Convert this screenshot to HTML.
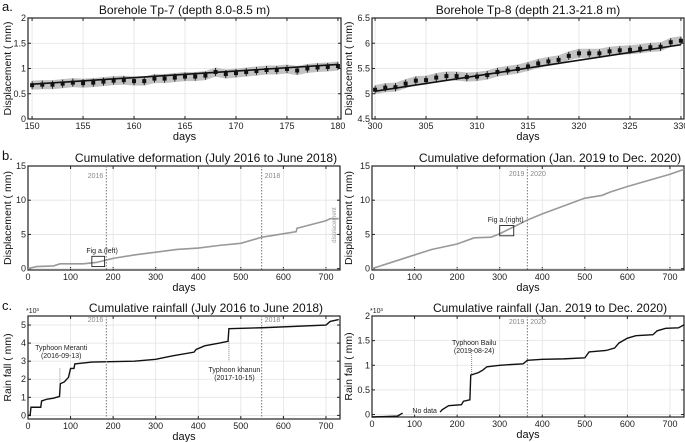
<!DOCTYPE html>
<html><head><meta charset="utf-8">
<style>
html,body{margin:0;padding:0;background:#fff;}
svg{display:block;font-family:"Liberation Sans",Arial,sans-serif;}
</style></head>
<body>
<svg id="fig" width="685" height="442" viewBox="0 0 685 442"></svg>
<script>
// ---- data ----
const tp7Days = [150,151,152,153,154,155,156,157,158,159,160,161,162,163,164,165,166,167,168,169,170,171,172,173,174,175,176,177,178,179,180];
const tp7Vals = [0.67,0.68,0.68,0.70,0.72,0.71,0.72,0.74,0.76,0.77,0.75,0.75,0.80,0.80,0.82,0.84,0.84,0.86,0.93,0.89,0.91,0.93,0.95,0.97,0.97,0.99,0.96,1.00,1.02,1.03,1.05];
const tp7Trend = [0.69,1.08];
const tp8Days = [300,301,302,303,304,305,306,307,308,309,310,311,312,313,314,315,316,317,318,319,320,321,322,323,324,325,326,327,328,329,330];
const tp8Vals = [5.08,5.12,5.13,5.20,5.26,5.27,5.32,5.35,5.35,5.33,5.34,5.37,5.43,5.46,5.49,5.54,5.60,5.64,5.67,5.75,5.80,5.80,5.80,5.84,5.86,5.87,5.89,5.92,5.93,6.02,6.05];
const tp8Trend = [5.05,5.97];
const defLeftDays = [0,20,60,75,130,160,200,250,300,350,400,450,500,550,630,632,700,710,730];
const defLeftVals = [0,0.3,0.4,0.7,0.7,0.9,1.5,2.0,2.4,2.8,3.0,3.4,3.7,4.6,5.4,5.9,7.0,7.3,7.3];
const defRightDays = [0,100,140,200,240,280,300,365,400,500,540,560,600,700,733];
const defRightVals = [0,2.0,2.8,3.6,4.5,4.6,5.1,7.1,8.0,10.3,10.7,11.2,12.0,13.8,14.5];
const rainLeftDays = [0,5,7,30,32,45,60,74,76,85,95,100,108,110,150,250,300,340,390,395,415,450,470,472,550,700,710,730];
const rainLeftVals = [0,0,0.45,0.45,0.8,0.9,0.95,1.05,1.75,1.85,2.1,2.6,2.6,2.85,2.95,3.0,3.1,3.3,3.5,3.65,3.85,4.0,4.1,4.8,4.85,5.0,5.2,5.3];
const rainRight1Days = [0,60,72];
const rainRight1Vals = [-0.05,-0.03,0.03];
const rainRight2Days = [160,165,180,210,215,230,232,250,260,270,300,355,365,400,450,500,510,550,570,580,600,620,660,670,690,720,733];
const rainRight2Vals = [0.05,0.1,0.18,0.2,0.27,0.3,0.8,0.85,0.9,0.97,1.0,1.03,1.1,1.12,1.13,1.15,1.27,1.3,1.35,1.45,1.55,1.6,1.62,1.7,1.75,1.76,1.82];
const tpXTicks = [0,5,10,15,20,25,30];
const tp7YTicks = [0,0.5,1,1.5,2];
const tp8YTicks = [4.5,5,5.5,6,6.5];
const dayTicks = [0,100,200,300,400,500,600,700];
const defYTicks = [0,5,10,15];
const rainLYTicks = [0,1,2,3,4,5];
const rainRYTicks = [0,0.5,1,1.5,2];

const NS="http://www.w3.org/2000/svg";
const svg=document.getElementById('fig');
function el(tag,attrs,parent,text){const e=document.createElementNS(NS,tag);for(const k in attrs)e.setAttribute(k,attrs[k]);if(text!==undefined)e.textContent=text;(parent||svg).appendChild(e);return e;}
function axes(o){
  const g=el('g',{});
  
  
  const sx=v=>o.x0+(v-o.xd[0])/(o.xd[1]-o.xd[0])*(o.x1-o.x0);
  const sy=v=>o.y1-(v-o.yd[0])/(o.yd[1]-o.yd[0])*(o.y1-o.y0);
  o.xt.forEach((t,i)=>{const x=sx(o.xoff+t);
    el('line',{x1:x,x2:x,y1:o.y0,y2:o.y1,stroke:'#e3e3e3','stroke-width':0.8},g);
    el('line',{x1:x,x2:x,y1:o.y1,y2:o.y1-3,stroke:'#222'},g);
    el('line',{x1:x,x2:x,y1:o.y0,y2:o.y0+3,stroke:'#222'},g);
    const tl=el('text',{x:x,y:o.y1+10,'font-size':9,'text-anchor':'middle',fill:'#222'},g,String(o.xoff+t));
    
    
  });
  o.yt.forEach(t=>{const y=sy(t);
    el('line',{x1:o.x0,x2:o.x1,y1:y,y2:y,stroke:'#e3e3e3','stroke-width':0.8},g);
    el('line',{x1:o.x0,x2:o.x0+3,y1:y,y2:y,stroke:'#222'},g);
    el('line',{x1:o.x1,x2:o.x1-3,y1:y,y2:y,stroke:'#222'},g);
    const tl=el('text',{x:o.x0-2,y:y+3,'font-size':9,'text-anchor':'end',fill:'#222'},g,String(t));
    
    
  });
  el('rect',{x:o.x0,y:o.y0,width:o.x1-o.x0,height:o.y1-o.y0,fill:'none',stroke:'#222','stroke-width':1.2},g);
  const tt=el('text',{x:(o.x0+o.x1)/2+(o.tdx||0),y:o.y0-4,'font-size':12,'text-anchor':'middle',fill:'#111'},g,o.title);
  
  
  const xl=el('text',{x:(o.x0+o.x1)/2,y:o.y1+21,'font-size':11,'text-anchor':'middle',fill:'#111'},g,'days');
  
  
  const yc=(o.y0+o.y1)/2;
  const yl=el('text',{x:o.ylx,y:yc,'font-size':10.5,'text-anchor':'middle',fill:'#111',transform:`rotate(-90 ${o.ylx} ${yc})`},g,o.ylabel);
  
  
  return {g,sx,sy};
}
function line(ax,xs,ys,attrs,name){
  const p=el('polyline',Object.assign({points:xs.map((x,i)=>ax.sx(x)+','+ax.sy(ys[i])).join(' '),fill:'none'},attrs),ax.g);
  
  
  return p;
}
function label(x,y,txt,size,fill,anchor,parent,name){
  const t=el('text',{x:x,y:y,'font-size':size,fill:fill,'text-anchor':anchor||'start'},parent,txt);
  
  
  return t;
}
function borehole(ax,days,vals,trend){
  const up=days.map((d,i)=>ax.sx(d)+','+ax.sy(vals[i]+0.09)).join(' ');
  const dn=days.slice().reverse().map((d,i)=>ax.sx(d)+','+ax.sy(vals[vals.length-1-i]-0.09)).join(' ');
  const band=el('polygon',{points:up+' '+dn,fill:'#bdbdbd',opacity:0.9},ax.g);
  
  
  line(ax,[days[0],days[days.length-1]],trend,{stroke:'#111','stroke-width':1.6},'trend-line');
  days.forEach((d,i)=>{
    const x=ax.sx(d),y=ax.sy(vals[i]);
    const eb=el('line',{x1:x,x2:x,y1:ax.sy(vals[i]+0.08),y2:ax.sy(vals[i]-0.08),stroke:'#111','stroke-width':0.9},ax.g);
    
    
    const pt=el('rect',{x:x-2,y:y-2,width:4,height:4,fill:'#111'},ax.g);
    
    
  });
}
// panel letters
label(2,11,'a.',13,'#111','start',svg,'panel-label-a');
label(2,160,'b.',13,'#111','start',svg,'panel-label-b');
label(2,310,'c.',13,'#111','start',svg,'panel-label-c');

// a left
const aL=axes({name:'tp7-chart',x0:28,x1:341,y0:18,y1:119,xd:[149.6,180.3],yd:[0,2],xoff:150,xt:tpXTicks,yt:tp7YTicks,title:'Borehole Tp-7 (depth 8.0-8.5 m)',ylabel:'Displacement ( mm)',ylx:11});
borehole(aL,tp7Days,tp7Vals,tp7Trend);
// a right
const aR=axes({name:'tp8-chart',x0:372,x1:684,y0:18,y1:119,xd:[299.7,330.3],yd:[4.5,6.5],xoff:300,xt:tpXTicks,yt:tp8YTicks,title:'Borehole Tp-8 (depth 21.3-21.8 m)',ylabel:'Displacement ( mm)',ylx:352});
borehole(aR,tp8Days,tp8Vals,tp8Trend);

// b left
const bL=axes({name:'deformation-left-chart',x0:28,x1:340,y0:166,y1:270,xd:[0,733],yd:[-0.2,15],xoff:0,xt:dayTicks,yt:defYTicks,title:'Cumulative deformation (July 2016 to June 2018)',ylabel:'Displacement ( mm)',ylx:11,tdx:22});
line(bL,defLeftDays,defLeftVals,{stroke:'#999','stroke-width':1.6},'deformation-line');
[184,549].forEach((d,i)=>{const x=bL.sx(d);el('line',{x1:x,x2:x,y1:166,y2:270,stroke:'#777','stroke-dasharray':'1.5,1.5'},bL.g);
  label(x-3-(i?-6:0),178,i?'2018':'2016',7,'#888',i?'start':'end',bL.g,'year-marker-label');});
el('rect',{x:bL.sx(150),y:bL.sy(1.8),width:bL.sx(180)-bL.sx(150),height:bL.sy(0.3)-bL.sy(1.8),fill:'none',stroke:'#222','stroke-width':0.9},bL.g);
label(bL.sx(137),bL.sy(2.3),'Fig a.(left)',7,'#222','start',bL.g,'fig-a-left-annotation');
{const t=label(336,225,'displacement',6,'#999','middle',bL.g,'vertical-series-note');t.setAttribute('transform','rotate(-90 336 225)');}

// b right
const bR=axes({name:'deformation-right-chart',x0:372,x1:684,y0:166,y1:270,xd:[0,733],yd:[-0.2,15],xoff:0,xt:dayTicks,yt:defYTicks,title:'Cumulative deformation (Jan. 2019 to Dec. 2020)',ylabel:'Displacement ( mm)',ylx:352,tdx:22});
line(bR,defRightDays,defRightVals,{stroke:'#999','stroke-width':1.6},'deformation-line');
{const x=bR.sx(365);el('line',{x1:x,x2:x,y1:166,y2:270,stroke:'#777','stroke-dasharray':'1.5,1.5'},bR.g);
 label(x,176,'2019 : 2020',7,'#888','middle',bR.g,'year-marker-label');}
el('rect',{x:bR.sx(300),y:bR.sy(6.3),width:bR.sx(333)-bR.sx(300),height:bR.sy(4.8)-bR.sy(6.3),fill:'none',stroke:'#222','stroke-width':0.9},bR.g);
label(bR.sx(272),bR.sy(6.8),'Fig a.(right)',7,'#222','start',bR.g,'fig-a-right-annotation');

// c left
const cL=axes({name:'rainfall-left-chart',x0:28,x1:340,y0:316,y1:419,xd:[0,733],yd:[-0.2,5.5],xoff:0,xt:dayTicks,yt:rainLYTicks,title:'Cumulative rainfall (July 2016 to June 2018)',ylabel:'Rain fall ( mm)',ylx:11,tdx:22});
line(cL,rainLeftDays,rainLeftVals,{stroke:'#111','stroke-width':1.4},'rainfall-line');
label(26,313,'*10³',7,'#222','start',cL.g,'y-axis-multiplier');
[184,549].forEach((d,i)=>{const x=cL.sx(d);el('line',{x1:x,x2:x,y1:316,y2:419,stroke:'#777','stroke-dasharray':'1.5,1.5'},cL.g);
  label(x-3-(i?-6:0),322,i?'2018':'2016',7,'#888',i?'start':'end',cL.g,'year-marker-label');});
el('line',{x1:cL.sx(75),x2:cL.sx(75),y1:cL.sy(2.6),y2:cL.sy(1.8),stroke:'#888','stroke-dasharray':'1,1'},cL.g);
label(cL.sx(78),350,'Typhoon Meranti',7,'#222','middle',cL.g,'typhoon-meranti-label');
label(cL.sx(78),358,'(2016-09-13)',7,'#222','middle',cL.g,'typhoon-meranti-date');
el('line',{x1:cL.sx(472),x2:cL.sx(472),y1:cL.sy(4.1),y2:cL.sy(3.0),stroke:'#888','stroke-dasharray':'1,1'},cL.g);
label(cL.sx(485),372,'Typhoon khanun',7,'#222','middle',cL.g,'typhoon-khanun-label');
label(cL.sx(485),380,'(2017-10-15)',7,'#222','middle',cL.g,'typhoon-khanun-date');

// c right
const cR=axes({name:'rainfall-right-chart',x0:372,x1:684,y0:316,y1:417,xd:[0,733],yd:[-0.05,2],xoff:0,xt:dayTicks,yt:rainRYTicks,title:'Cumulative rainfall (Jan. 2019 to Dec. 2020)',ylabel:'Rain fall ( mm)',ylx:352,tdx:22});
line(cR,rainRight1Days,rainRight1Vals,{stroke:'#111','stroke-width':1.4},'rainfall-line-before-gap');
line(cR,rainRight2Days,rainRight2Vals,{stroke:'#111','stroke-width':1.4},'rainfall-line');
label(370,313,'*10³',7,'#222','start',cR.g,'y-axis-multiplier');
{const x=cR.sx(365);el('line',{x1:x,x2:x,y1:316,y2:417,stroke:'#777','stroke-dasharray':'1.5,1.5'},cR.g);
 label(x,324,'2019 : 2020',7,'#888','middle',cR.g,'year-marker-label');}
el('line',{x1:cR.sx(234),x2:cR.sx(234),y1:cR.sy(1.33),y2:cR.sy(0.82),stroke:'#888','stroke-dasharray':'1,1'},cR.g);
label(cR.sx(240),345,'Typhoon Bailu',7,'#222','middle',cR.g,'typhoon-bailu-label');
label(cR.sx(240),353,'(2019-08-24)',7,'#222','middle',cR.g,'typhoon-bailu-date');
label(cR.sx(95),413,'No data',7,'#222','start',cR.g,'no-data-label');
</script>
</body></html>
